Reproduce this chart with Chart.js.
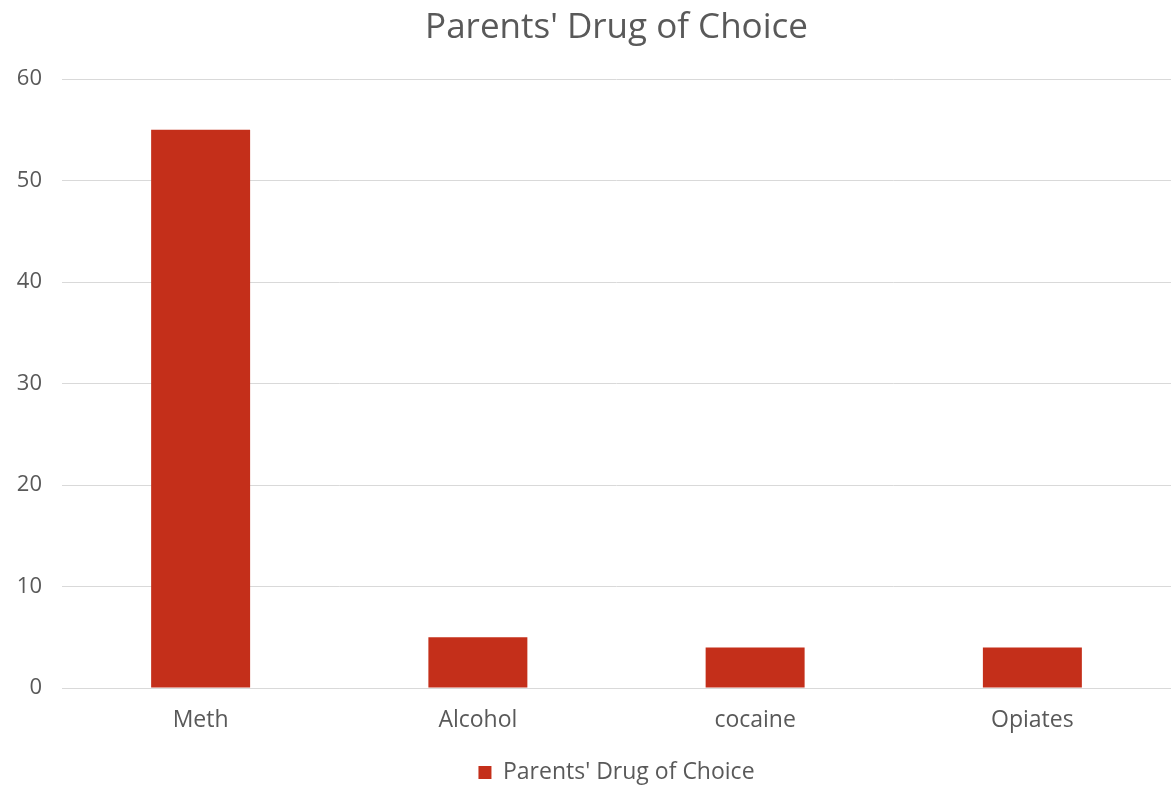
<!DOCTYPE html>
<html>
<head>
<meta charset="utf-8">
<script src="https://cdn.jsdelivr.net/npm/chart.js@4"></script>
<style>
  html, body { margin: 0; padding: 0; background: #fff; }
  #wrap { width: 1171px; height: 785px; }
</style>
</head>
<body>
<div id="wrap"><canvas id="chart"></canvas></div>
<script>
const categories = ['Meth', 'Alcohol', 'cocaine', 'Opiates'];
const drugValues = [55, 5, 4, 4];
const seriesName = "Parents' Drug of Choice";

const textColor = '#595959';
const fontFamily = "'Open Sans', 'Noto Sans', sans-serif";

new Chart(document.getElementById('chart'), {
    type: 'bar',
    data: {
        labels: categories,
        datasets: [{
            label: seriesName,
            data: drugValues,
            backgroundColor: '#c42f1a',
            borderWidth: 0,
            categoryPercentage: 1,
            barPercentage: 0.357
        }]
    },
    options: {
        responsive: true,
        maintainAspectRatio: false,
        animation: false,
        layout: { padding: { top: 0, right: 0, bottom: -9, left: 0 } },
        plugins: {
            title: {
                display: true,
                fullSize: false,
                text: seriesName,
                color: textColor,
                font: { family: fontFamily, size: 35, weight: 'normal' },
                padding: { top: 7, bottom: 30 }
            },
            legend: {
                position: 'bottom',
                fullSize: false,
                labels: {
                    color: textColor,
                    font: { family: fontFamily, size: 23 },
                    boxWidth: 13,
                    boxHeight: 13,
                    padding: 0
                }
            },
            tooltip: { enabled: false }
        },
        scales: {
            x: {
                grid: { display: false },
                border: { color: '#d9d9d9', width: 1 },
                ticks: { color: textColor, font: { family: fontFamily, size: 23 }, padding: 11 },
                afterFit: (scale) => { scale.height = 73; }
            },
            y: {
                min: 0,
                max: 60,
                ticks: { stepSize: 10, color: textColor, font: { family: fontFamily, size: 22 }, padding: 20 },
                grid: { color: '#d9d9d9', lineWidth: 1, drawTicks: false },
                border: { display: false },
                afterFit: (scale) => { scale.width = 62; }
            }
        }
    }
});
</script>
</body>
</html>
